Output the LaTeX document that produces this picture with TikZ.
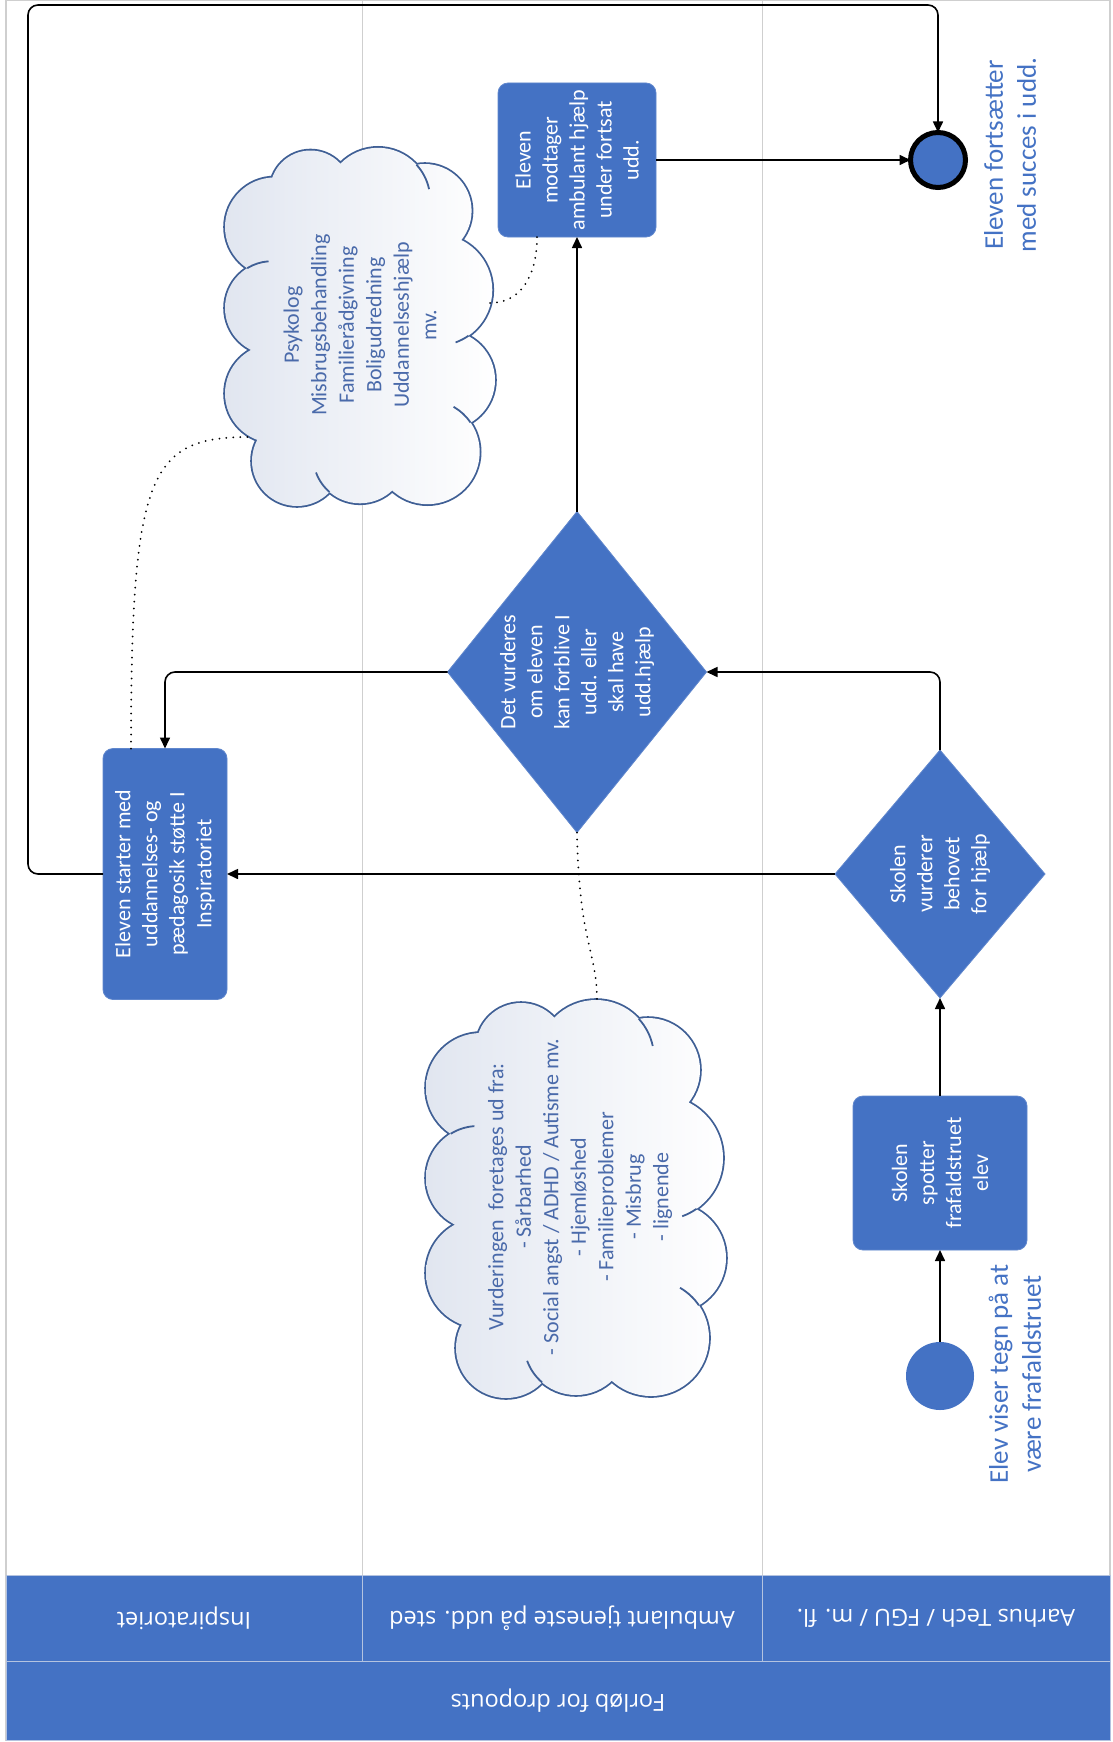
\documentclass[tikz,border=0pt]{standalone}
\usepackage{fontspec}
\setmainfont{Carlito}
\newfontfamily\hdrfont{Open Sans}
\usetikzlibrary{shapes.geometric,arrows.meta,calc}
\definecolor{offblue}{HTML}{4472C4}
\definecolor{lanegray}{HTML}{CFCFCF}
\definecolor{cloudline}{HTML}{3F5F95}
\definecolor{cloudtext}{HTML}{4A6AAA}
\definecolor{cloudfill}{HTML}{E1E6F0}
\definecolor{hdrline}{HTML}{B4C3E0}
\newcommand\cloudpuffs{(-95,-110) circle[radius=55] (-98,-20) circle[radius=52] (-95,75) circle[radius=55] (-70,150) circle[radius=50] (0,145) circle[radius=52] (75,140) circle[radius=58] (95,60) circle[radius=55] (85,-40) circle[radius=62] (72,-128) circle[radius=52] (20,-140) circle[radius=58] (-55,-150) circle[radius=45]}
\newcommand\cloudarcs{(85,-40) ++(55:62) arc[start angle=55,end angle=70,radius=62] (20,-140) ++(-42.5:58) arc[start angle=-42.5,end angle=-12,radius=58] (0,145) ++(130.7:52) arc[start angle=130.7,end angle=160,radius=52] (-98,-20) ++(238.3:52) arc[start angle=238.3,end angle=266,radius=52] (75,140) ++(325.7:58) arc[start angle=325.7,end angle=300,radius=58]}
\begin{document}
\begin{tikzpicture}[x=1pt,y=-1pt,
  every node/.style={inner sep=0pt, outer sep=0pt},
  procbox/.style={rectangle, rounded corners=10pt, fill=offblue, draw=offblue!85!white, line width=0.8pt, text=white, align=center, rotate=90, font=\fontsize{22}{27}\selectfont},
  decbox/.style={diamond, fill=offblue, draw=offblue!85!white, line width=0.8pt, text=white, align=center, rotate=90, font=\fontsize{22}{27}\selectfont},
  arr/.style={line width=1.6pt, -{Triangle[length=11pt,width=10pt]}},
  assoc/.style={line width=2pt, dash pattern=on 0pt off 7pt, line cap=round},
  bluelabel/.style={rotate=90, align=center, text=offblue, font=\fontsize{27}{33}\selectfont},
  cloudarea/.style={rectangle},
  cloudtxt/.style={rotate=90, align=center, text=cloudtext, font=\fontsize{22}{27.5}\selectfont},
  hdrcell/.style={rectangle, fill=offblue, draw=hdrline, line width=1pt, text=white, rotate=180, font=\hdrfont\fontsize{23.5}{28}\selectfont}
]
\useasboundingbox (0,0) rectangle (1113,1742);
\fill[white] (0,0) rectangle (1113,1742);
% pool frame and lanes
\draw[lanegray, line width=1.2pt] (6,0) rectangle (1110,1740);
\draw[lanegray, line width=1pt] (362,0) -- (362,1575);
\draw[lanegray, line width=1pt] (762,0) -- (762,1575);
% headers
\node[hdrcell, minimum width=356, minimum height=86] (h1) at (184,1618) {Inspiratoriet};
\node[hdrcell, minimum width=400, minimum height=86] (h2) at (562,1618) {Ambulant tjeneste på udd. sted};
\node[hdrcell, minimum width=348, minimum height=86] (h3) at (936,1618) {Aarhus Tech / FGU / m. fl.};
\node[hdrcell, minimum width=1104, minimum height=79] (pool) at (558,1700.5) {Forløb for dropouts};
% clouds
\node[cloudarea, minimum width=297, minimum height=395] (cloud1) at (576,1198) {};
\begin{scope}[shift={(cloud1.center)}]
  \draw[cloudline, line width=3.6pt] \cloudpuffs;
  \shade[left color=cloudfill, right color=white] \cloudpuffs (0,0) ellipse[x radius=100, y radius=150];
  \draw[cloudline, line width=1.8pt] \cloudarcs;
\end{scope}
\node[cloudtxt] (cloud1txt) at (580,1197) {Vurderingen\ \ foretages ud fra:\\- Sårbarhed\\- Social angst / ADHD / Autisme mv.\\- Hjemløshed\\- Familieproblemer\\- Misbrug\\- lignende};
\node[cloudarea, minimum width=266, minimum height=352] (cloud2) at (360,326) {};
\begin{scope}[shift={(cloud2.center)}, scale=0.9]
  \draw[cloudline, line width=3.6pt] \cloudpuffs;
  \shade[left color=cloudfill, right color=white] \cloudpuffs (0,0) ellipse[x radius=100, y radius=150];
  \draw[cloudline, line width=1.8pt] \cloudarcs;
\end{scope}
\node[cloudtxt] (cloud2txt) at (360,325) {Psykolog\\Misbrugsbehandling\\Familierådgivning\\Boligudredning\\Uddannelseshjælp\\mv.};
% flow nodes
\node[circle, fill=offblue, minimum size=68] (start) at (940,1376) {};
\node[bluelabel] (startlbl) at (1015,1374) {Elev viser tegn på at\\være frafaldstruet};
\node[procbox, minimum width=154, minimum height=174] (spot) at (940,1173) {Skolen\\spotter\\frafaldstruet\\elev};
\node[decbox, minimum width=248, minimum height=210] (vur1) at (940,874) {Skolen\\vurderer\\behovet\\for hjælp};
\node[decbox, aspect=1.24, minimum width=321, minimum height=259] (det) at (577,672) {Det vurderes\\om eleven\\kan forblive I\\udd. eller\\skal have\\udd.hjælp};
\node[procbox, minimum width=251, minimum height=124] (insp) at (165,874) {Eleven starter med\\uddannelses- og\\pædagosik støtte I\\Inspiratoriet};
\node[procbox, minimum width=154, minimum height=158] (modt) at (577,160) {Eleven\\modtager\\ambulant hjælp\\under fortsat\\udd.};
\node[circle, fill=offblue, draw=black, line width=5pt, minimum size=55] (endc) at (938,160) {};
\node[bluelabel] (endlbl) at (1010,155) {Eleven fortsætter\\med succes i udd.};
% connectors
\draw[arr] (start.north) -- (spot.west);
\draw[arr] (spot.east) -- (vur1.west);
\draw[arr, rounded corners=10pt] (vur1.east) |- (det.south);
\draw[arr] (vur1.north) -- (insp.south);
\draw[arr, rounded corners=10pt] (det.north) -| (insp.east);
\draw[arr] (det.east) -- (modt.west);
\draw[arr] (modt.south) -- (endc.west);
\coordinate (loopc) at (28,5);
\draw[arr, rounded corners=10pt] (insp.north) -| (loopc) -| (endc.north);
% associations
\draw[assoc] (det.west) .. controls +(2,110) and +(0,-50) .. ($(cloud1.center)+(21,-197)$);
\draw[assoc] ($(insp.east)+(-34,0)$) .. controls +(0,-280) and +(-100,0) .. ($(cloud2.center)+(-109,111)$);
\draw[assoc] ($(cloud2.center)+(130,-23)$) .. controls +(30,0) and +(0,40) .. ($(modt.west)+(-40,0)$);
\end{tikzpicture}
\end{document}
